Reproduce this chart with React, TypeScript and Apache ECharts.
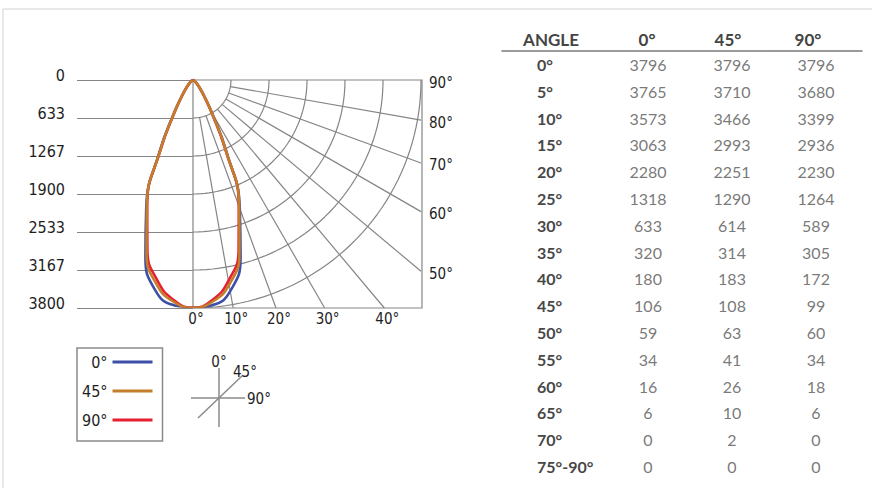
import React, { useEffect, useRef } from 'react';
import * as echarts from 'echarts';

// ---- data ----
const ROW_LABELS = ['0°', '5°', '10°', '15°', '20°', '25°', '30°', '35°', '40°', '45°', '50°', '55°', '60°', '65°', '70°', '75°-90°'];
const ANGLES = [0, 5, 10, 15, 20, 25, 30, 35, 40, 45, 50, 55, 60, 65, 70, 75];
const PLANES = ['0°', '45°', '90°'];
const CD_0 = [3796, 3765, 3573, 3063, 2280, 1318, 633, 320, 180, 106, 59, 34, 16, 6, 0, 0];
const CD_45 = [3796, 3710, 3466, 2993, 2251, 1290, 614, 314, 183, 108, 63, 41, 26, 10, 2, 0];
const CD_90 = [3796, 3680, 3399, 2936, 2230, 1264, 589, 305, 172, 99, 60, 34, 18, 6, 0, 0];
const Y_TICKS = [0, 633, 1267, 1900, 2533, 3167, 3800];
const GRID_ANGLES = [10, 20, 30, 40, 50, 60, 70, 80];
const BOTTOM_ANGLES = [0, 10, 20, 30, 40];
const RIGHT_ANGLES = [50, 60, 70, 80, 90];
const TABLE_HEADERS = ['ANGLE', '0°', '45°', '90°'];

const PLANE_COLORS = ['#3d4fa6', '#c47d2b', '#e6202e'];
const NARROW = "'Liberation Sans Narrow', 'DejaVu Sans Condensed', 'Roboto Condensed', sans-serif";
const TABLE_FONT = "Lato, 'Open Sans', sans-serif";
const GRID_COLOR = '#858585';

const MAX = Y_TICKS[Y_TICKS.length - 1];
const rad = (d: number) => (d * Math.PI) / 180;

function mirrored(cd: number[]) {
  const pts: number[][] = [];
  for (let i = cd.length - 1; i >= 0; i--) pts.push([cd[i], -ANGLES[i]]);
  for (let i = 1; i < cd.length; i++) pts.push([cd[i], ANGLES[i]]);
  return pts;
}

function arcPoints(r: number) {
  const pts: number[][] = [];
  for (let a = 0; a <= 90; a += 2) pts.push([r * Math.sin(rad(a)), r * Math.cos(rad(a))]);
  return pts;
}

function radialPoints(a: number) {
  const r0 = Y_TICKS[1];
  const start = [r0 * Math.sin(rad(a)), r0 * Math.cos(rad(a))];
  const end = a <= 45 ? [MAX * Math.tan(rad(a)), MAX] : [MAX, MAX / Math.tan(rad(a))];
  return [start, end];
}

const bottomVals = BOTTOM_ANGLES.map((a) => MAX * Math.tan(rad(a)));
const rightVals = RIGHT_ANGLES.map((a) => (a === 90 ? 0 : MAX / Math.tan(rad(a))));
const HEADER_X = [49, 145, 226, 306];
const COL_X = [146, 230, 314];

function nearestIdx(arr: number[], v: number) {
  let best = 0;
  for (let i = 1; i < arr.length; i++) if (Math.abs(arr[i] - v) < Math.abs(arr[best] - v)) best = i;
  return best;
}

export default function App() {
  const ref = useRef<HTMLDivElement>(null);
  useEffect(() => {
    if (!ref.current) return;
    const chart = echarts.init(ref.current, undefined, { renderer: 'svg' });
    const gridLine = { color: GRID_COLOR, width: 1.2 };
    const series: any[] = [];
    Y_TICKS.slice(1).forEach((r) => {
      series.push({
        type: 'line', xAxisIndex: 1, yAxisIndex: 1, data: arcPoints(r), symbol: 'none',
        lineStyle: gridLine, silent: true, z: 1,
      });
    });
    GRID_ANGLES.forEach((a) => {
      series.push({
        type: 'line', xAxisIndex: 1, yAxisIndex: 1, data: radialPoints(a), symbol: 'none',
        lineStyle: gridLine, silent: true, z: 1,
      });
    });
    const curveOrder = [0, 2, 1];
    const cds = [CD_0, CD_45, CD_90];
    curveOrder.forEach((i) => {
      series.push({
        type: 'line', name: PLANES[i], coordinateSystem: 'polar', polarIndex: 0,
        data: mirrored(cds[i]), symbol: 'none', smooth: 0.5, color: PLANE_COLORS[i],
        lineStyle: { color: PLANE_COLORS[i], width: 2.6 }, z: 5, silent: true,
      });
    });
    cds.forEach((cd, j) => {
      series.push({
        type: 'scatter', name: 'table' + j, xAxisIndex: 2, yAxisIndex: 2,
        data: cd.map((v, i) => [COL_X[j], i, v]), symbolSize: 1,
        itemStyle: { color: 'rgba(0,0,0,0)' }, silent: true,
        label: {
          show: true, position: 'inside', formatter: (p: any) => String(p.value[2]),
          color: '#555', fontFamily: TABLE_FONT, fontSize: 16,
        },
      });
    });

    const option: any = {
      animation: false,
      backgroundColor: '#fff',
      grid: [
        { left: 77, top: 80, width: 116, height: 228 },
        { left: 193, top: 80, width: 229, height: 228, show: true, borderColor: GRID_COLOR, borderWidth: 1.2 },
        { left: 502, top: 51, width: 360, height: 429 },
      ],
      xAxis: [
        { gridIndex: 0, type: 'value', min: 0, max: 1, show: false },
        {
          gridIndex: 1, type: 'value', min: 0, max: MAX * 229 / 228, position: 'bottom',
          axisLine: { show: false }, axisTick: { show: false }, splitLine: { show: false },
          axisLabel: {
            customValues: bottomVals, margin: 3, padding: [0, 0, 0, 6],
            formatter: (v: number) => BOTTOM_ANGLES[nearestIdx(bottomVals, v)] + '°',
            fontFamily: NARROW, fontSize: 15, color: '#1e1e1e',
          },
        },
        {
          gridIndex: 2, type: 'value', min: 0, max: 360, position: 'top',
          axisLine: { show: true, lineStyle: { color: '#7a7a7a', width: 1.5 } },
          axisTick: { show: false }, splitLine: { show: false },
          axisLabel: {
            customValues: HEADER_X, margin: 3,
            formatter: (v: number) => TABLE_HEADERS[nearestIdx(HEADER_X, v)],
            fontFamily: TABLE_FONT, fontSize: 17, fontWeight: 'bold', color: '#454545',
          },
        },
      ],
      yAxis: [
        {
          gridIndex: 0, type: 'value', min: 0, max: Y_TICKS.length - 1, interval: 1, inverse: true,
          axisLine: { show: false }, axisTick: { show: false },
          splitLine: { show: true, lineStyle: gridLine },
          axisLabel: {
            formatter: (v: number) => String(Y_TICKS[v]), margin: 12,
            verticalAlign: 'bottom', lineHeight: 10,
            fontFamily: NARROW, fontSize: 16, color: '#1e1e1e',
          },
        },
        {
          gridIndex: 1, type: 'value', min: 0, max: MAX, inverse: true, position: 'right',
          axisLine: { show: false }, axisTick: { show: false }, splitLine: { show: false },
          axisLabel: {
            customValues: rightVals, margin: 7, verticalAlign: 'top', lineHeight: 5,
            formatter: (v: number) => RIGHT_ANGLES[nearestIdx(rightVals, v)] + '°',
            fontFamily: NARROW, fontSize: 15, color: '#1e1e1e',
          },
        },
        {
          gridIndex: 2, type: 'category', data: ROW_LABELS, inverse: true,
          axisLine: { show: false }, axisTick: { show: false }, splitLine: { show: false },
          axisLabel: {
            interval: 0, align: 'left', margin: -35,
            fontFamily: TABLE_FONT, fontSize: 16, fontWeight: 'bold', color: '#474747',
          },
        },
      ],
      polar: { center: [193, 80], radius: 228 },
      angleAxis: { type: 'value', min: -180, max: 180, startAngle: 90, clockwise: true, show: false },
      radiusAxis: { type: 'value', min: 0, max: MAX, show: false },
      legend: {
        data: PLANES, orient: 'vertical', left: 77, top: 348, align: 'right', icon: 'rect',
        itemWidth: 40, itemHeight: 3, itemGap: 13, padding: [6, 10, 13, 5],
        borderColor: '#8a8a8a', borderWidth: 1.5, selectedMode: false,
        textStyle: { fontFamily: NARROW, fontSize: 16, color: '#1e1e1e' },
      },
      graphic: [
        { type: 'rect', shape: { x: 3, y: 9, width: 900, height: 500 }, style: { fill: 'none', stroke: '#d2d2d2', lineWidth: 1 }, silent: true },
        { type: 'line', shape: { x1: 219, y1: 368, x2: 219, y2: 427 }, style: { stroke: '#8a8a8a', lineWidth: 1.5 } },
        { type: 'line', shape: { x1: 191, y1: 398, x2: 245, y2: 398 }, style: { stroke: '#8a8a8a', lineWidth: 1.5 } },
        { type: 'line', shape: { x1: 198, y1: 418, x2: 243, y2: 375 }, style: { stroke: '#8a8a8a', lineWidth: 1.5 } },
        { type: 'text', x: 219, y: 362, style: { text: '0°', fontFamily: NARROW, fontSize: 15, fill: '#1e1e1e', align: 'center', verticalAlign: 'middle' } },
        { type: 'text', x: 233, y: 372, style: { text: '45°', fontFamily: NARROW, fontSize: 15, fill: '#1e1e1e', align: 'left', verticalAlign: 'middle' } },
        { type: 'text', x: 247, y: 399, style: { text: '90°', fontFamily: NARROW, fontSize: 15, fill: '#1e1e1e', align: 'left', verticalAlign: 'middle' } },
      ],
      series,
    };
    chart.setOption(option);
    return () => chart.dispose();
  }, []);
  return <div ref={ref} style={{ position: 'fixed', left: 0, top: 0, width: 872, height: 488 }} />;
}
